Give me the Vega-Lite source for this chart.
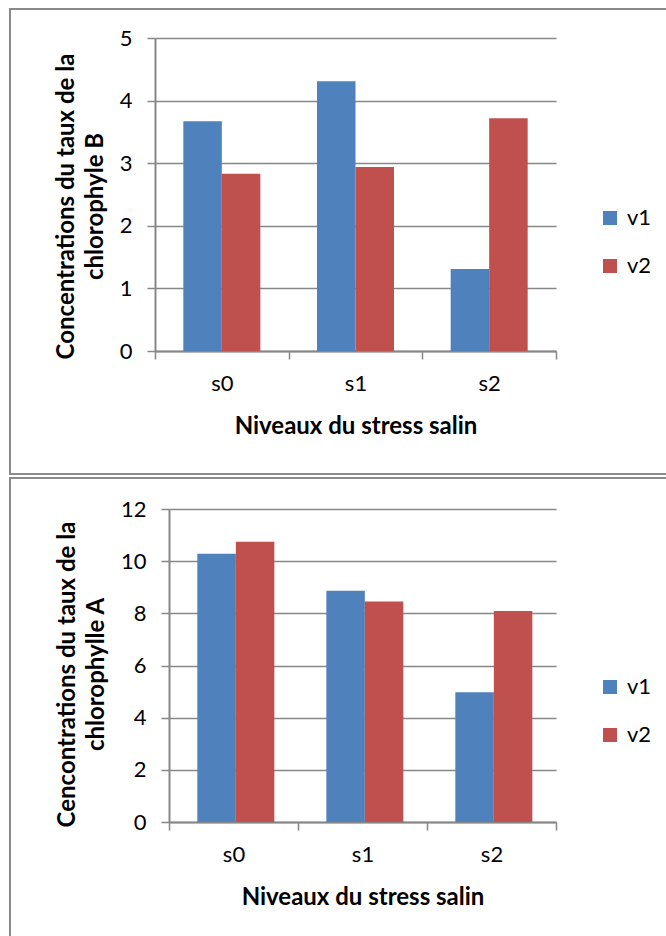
{
  "$schema": "https://vega.github.io/schema/vega-lite/v6.json",
  "padding": {"left": 9, "top": 8, "right": 0, "bottom": 0},
  "autosize": {"type": "pad"},
  "background": "white",
  "spacing": 2,
  "resolve": {"scale": {"color": "independent"}, "legend": {"color": "independent"}},
  "config": {
    "font": "Lato",
    "view": {"stroke": "#8a8a8a", "strokeWidth": 2},
    "axis": {
      "gridColor": "#878787", "gridWidth": 1.5, "gridOpacity": 1,
      "domainColor": "#878787", "domainWidth": 2,
      "tickColor": "#878787", "tickWidth": 1.5, "tickSize": 8,
      "labelFont": "Lato", "labelFontSize": 22, "labelColor": "#000000",
      "titleFont": "Lato", "titleFontSize": 24, "titleFontWeight": "bold", "titleColor": "#000000"
    },
    "legend": {
      "orient": "none", "title": null, "symbolType": "square", "symbolSize": 196,
      "symbolStrokeWidth": 0, "labelFont": "Lato", "labelFontSize": 22, "labelColor": "#000000",
      "rowPadding": 26, "labelOffset": 6
    }
  },
  "datasets": {
    "chlB": [
      {"niveau": "s0", "variete": "v1", "valeur": 3.67},
      {"niveau": "s0", "variete": "v2", "valeur": 2.83},
      {"niveau": "s1", "variete": "v1", "valeur": 4.31},
      {"niveau": "s1", "variete": "v2", "valeur": 2.94},
      {"niveau": "s2", "variete": "v1", "valeur": 1.31},
      {"niveau": "s2", "variete": "v2", "valeur": 3.72}
    ],
    "chlA": [
      {"niveau": "s0", "variete": "v1", "valeur": 10.28},
      {"niveau": "s0", "variete": "v2", "valeur": 10.74},
      {"niveau": "s1", "variete": "v1", "valeur": 8.87},
      {"niveau": "s1", "variete": "v2", "valeur": 8.45},
      {"niveau": "s2", "variete": "v1", "valeur": 4.97},
      {"niveau": "s2", "variete": "v2", "valeur": 8.09}
    ]
  },
  "vconcat": [
    {
      "width": 657, "height": 465,
      "data": {"name": "chlB"},
      "mark": {"type": "bar"},
      "encoding": {
        "x": {
          "field": "niveau", "type": "nominal",
          "scale": {"range": [145, 546], "paddingInner": 0, "paddingOuter": 0},
          "axis": {"orient": "bottom", "offset": -123, "tickBand": "extent", "labelAngle": 0,
                   "labelPadding": 14, "title": "Niveaux du stress salin", "titlePadding": 20, "grid": false}
        },
        "xOffset": {"field": "variete", "type": "nominal", "scale": {"paddingInner": 0, "paddingOuter": 0.736}},
        "y": {
          "field": "valeur", "type": "quantitative",
          "scale": {"domain": [0, 5], "range": [342, 29], "nice": false},
          "axis": {"offset": -145, "values": [0, 1, 2, 3, 4, 5], "grid": true, "labelPadding": 15,
                   "title": ["Concentrations du taux de la", "chlorophyle B"],
                   "titleLineHeight": 29, "titlePadding": 12, "titleY": 197}
        },
        "color": {
          "field": "variete", "type": "nominal",
          "scale": {"domain": ["v1", "v2"], "range": ["#4F81BD", "#C0504D"]},
          "legend": {"legendX": 589, "legendY": 198}
        }
      }
    },
    {
      "width": 657, "height": 462,
      "data": {"name": "chlA"},
      "mark": {"type": "bar"},
      "encoding": {
        "x": {
          "field": "niveau", "type": "nominal",
          "scale": {"range": [159, 546], "paddingInner": 0, "paddingOuter": 0},
          "axis": {"orient": "bottom", "offset": -118, "tickBand": "extent", "labelAngle": 0,
                   "labelPadding": 14, "title": "Niveaux du stress salin", "titlePadding": 20, "grid": false}
        },
        "xOffset": {"field": "variete", "type": "nominal", "scale": {"paddingInner": 0, "paddingOuter": 0.736}},
        "y": {
          "field": "valeur", "type": "quantitative",
          "scale": {"domain": [0, 12], "range": [344, 31], "nice": false},
          "axis": {"offset": -159, "values": [0, 2, 4, 6, 8, 10, 12], "grid": true, "labelPadding": 15,
                   "title": ["Cencontrations du taux de la", "chlorophylle A"],
                   "titleLineHeight": 29, "titlePadding": 12, "titleY": 196}
        },
        "color": {
          "field": "variete", "type": "nominal",
          "scale": {"domain": ["v1", "v2"], "range": ["#4F81BD", "#C0504D"]},
          "legend": {"legendX": 589, "legendY": 198}
        }
      }
    }
  ]
}
